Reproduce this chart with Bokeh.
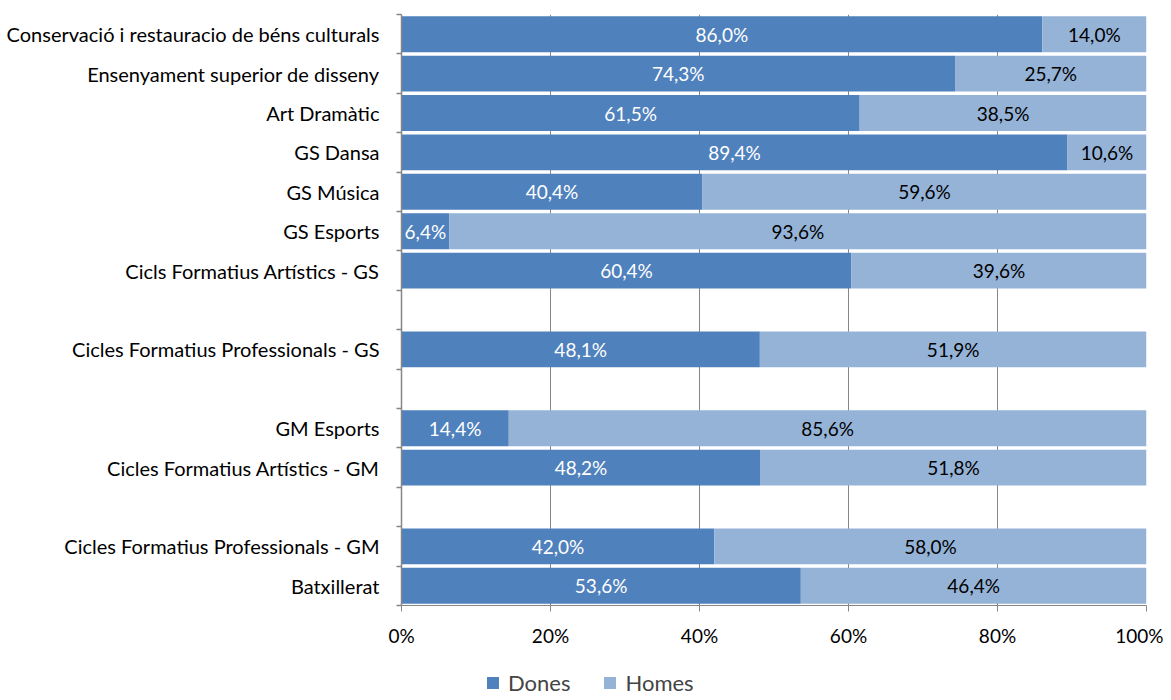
from bokeh.plotting import figure
from bokeh.layouts import column
from bokeh.models import (Range1d, FixedTicker, ColumnDataSource, Legend, LegendItem, LabelSet)
from bokeh.embed import file_html
from bokeh.resources import INLINE
from bokeh.core.properties import value

# Data (top to bottom); "" marks an empty spacer row
categories = [
    "Conservació i restauracio de béns culturals",
    "Ensenyament superior de disseny",
    "Art Dramàtic",
    "GS Dansa",
    "GS Música",
    "GS Esports",
    "Cicls Formatius Artístics - GS",
    "",
    "Cicles Formatius Professionals - GS",
    "",
    "GM Esports",
    "Cicles Formatius Artístics - GM",
    "",
    "Cicles Formatius Professionals - GM",
    "Batxillerat",
]
dones = [86.0, 74.3, 61.5, 89.4, 40.4, 6.4, 60.4, None, 48.1, None, 14.4, 48.2, None, 42.0, 53.6]
homes = [14.0, 25.7, 38.5, 10.6, 59.6, 93.6, 39.6, None, 51.9, None, 85.6, 51.8, None, 58.0, 46.4]
series_names = ["Dones", "Homes"]
x_ticks = [0, 20, 40, 60, 80, 100]
x_tick_labels = ["0%", "20%", "40%", "60%", "80%", "100%"]

FONT = "Lato"
C_DONES = "#4F81BD"
C_HOMES = "#95B3D7"
GRID = "#868686"

n = len(categories)
rows = [i for i in range(n) if dones[i] is not None]
yc = [i + 0.5 for i in rows]
d = [dones[i] for i in rows]
h = [homes[i] for i in rows]

def fmt(v):
    return f"{v:.1f}".replace(".", ",") + "%"

src = ColumnDataSource(dict(
    y=yc,
    d=d,
    h=h,
    d_end=[a for a in d],
    h_end=[a + b for a, b in zip(d, h)],
    d_mid=[a / 2 for a in d],
    h_mid=[a + b / 2 for a, b in zip(d, h)],
    d_lab=[fmt(a) for a in d],
    h_lab=[fmt(b) for b in h],
))

W, H = 1163, 650
p = figure(width=W, height=H, output_backend="svg", toolbar_location=None,
           x_range=Range1d(0, 100), y_range=Range1d(n, 0),
           min_border_left=401, min_border_right=W - 1146, min_border_top=14,
           min_border_bottom=H - 605)
p.outline_line_color = None
p.background_fill_color = "white"
p.border_fill_color = "white"

# grid
p.xgrid.ticker = FixedTicker(ticks=x_ticks[1:])
p.xgrid.grid_line_color = GRID
p.xgrid.grid_line_width = 1
p.ygrid.grid_line_color = None

r1 = p.hbar(y="y", left=0, right="d_end", height=0.91, source=src,
            fill_color=C_DONES, line_color=None)
r2 = p.hbar(y="y", left="d_end", right="h_end", height=0.91, source=src,
            fill_color=C_HOMES, line_color=None)

p.add_layout(LabelSet(x="d_mid", y="y", text="d_lab", source=src, text_align="center",
                      text_baseline="middle", text_color="white", text_font=value(FONT),
                      text_font_size="19px"))
p.add_layout(LabelSet(x="h_mid", y="y", text="h_lab", source=src, text_align="center",
                      text_baseline="middle", text_color="black", text_font=value(FONT),
                      text_font_size="19px"))

# x axis
xa = p.xaxis[0]
xa.ticker = FixedTicker(ticks=x_ticks)
xa.major_label_overrides = {t: l for t, l in zip(x_ticks, x_tick_labels)}
xa.axis_line_color = GRID
xa.major_tick_line_color = GRID
xa.major_tick_out = 6
xa.major_tick_in = 0
xa.minor_tick_line_color = None
xa.major_label_text_font = FONT
xa.major_label_text_font_size = "19px"
xa.major_label_text_color = "black"
xa.major_label_standoff = 12

# y axis
ya = p.yaxis[0]
ya.ticker = FixedTicker(ticks=[i + 0.5 for i in range(n)], minor_ticks=list(range(n + 1)))
ya.major_label_overrides = {i + 0.5: categories[i] for i in range(n)}
ya.axis_line_color = GRID
ya.axis_line_width = 1.5
ya.major_tick_line_color = None
ya.major_tick_out = 0
ya.major_tick_in = 0
ya.minor_tick_line_color = GRID
ya.minor_tick_out = 5
ya.minor_tick_in = 0
ya.minor_tick_line_width = 1.5
ya.major_label_text_font = FONT
ya.major_label_text_font_size = "20px"
ya.major_label_text_color = "black"
ya.major_label_standoff = 17

# legend strip (separate small figure below the chart); dummy renderers with NaN data
H2 = 48
p2 = figure(width=W, height=H2, output_backend="svg", toolbar_location=None,
            x_range=Range1d(0, 1), y_range=Range1d(0, 1),
            x_axis_type=None, y_axis_type=None,
            min_border_left=0, min_border_right=0, min_border_top=0, min_border_bottom=0)
p2.outline_line_color = None
p2.xgrid.visible = False
p2.ygrid.visible = False
nan = float("nan")
lr1 = p2.hbar(y=[nan], right=[nan], height=0.5, fill_color=C_DONES, line_color=None)
lr2 = p2.hbar(y=[nan], right=[nan], height=0.5, fill_color=C_HOMES, line_color=None)
legend = Legend(items=[LegendItem(label=series_names[0], renderers=[lr1]),
                       LegendItem(label=series_names[1], renderers=[lr2])],
                orientation="horizontal", location=(84, 2),
                glyph_width=15, glyph_height=15, label_standoff=8, spacing=32,
                padding=0, margin=0, border_line_color=None, background_fill_alpha=0,
                label_text_font=FONT, label_text_font_size="22px", label_height=22)
p2.add_layout(legend, "center")

layout = column(p, p2, spacing=0)
open("out.html", "w").write(file_html(layout, INLINE))
